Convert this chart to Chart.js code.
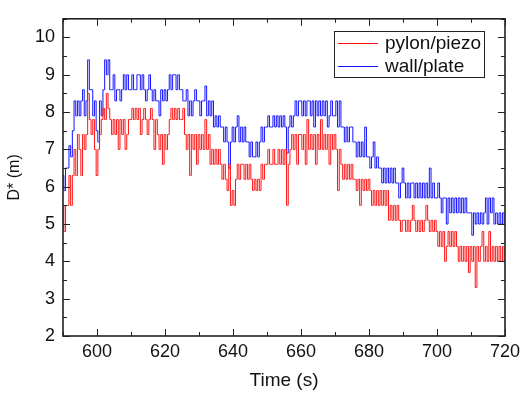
<!DOCTYPE html>
<html>
<head>
<meta charset="utf-8">
<script src="https://cdn.jsdelivr.net/npm/chart.js@4.4.1/dist/chart.umd.min.js"></script>
<style>
  html, body { margin: 0; padding: 0; background: #fff; }
  #wrap { width: 525px; height: 393px; }
</style>
</head>
<body>
<div id="wrap"><canvas id="chart" width="525" height="393"></canvas></div>
<script>
// sampling grid of the record (s)
const startTime = 590;
const timeStep = 0.5;

const seriesNames = ['pylon/piezo', 'wall/plate'];

// D* (m), pylon/piezo, one value every 0.5 s from 590 s to 720 s
const pylonPiezo = [
  5.5, 4.8, 5.5, 5.5, 6.3, 5.5, 6.3, 7.0, 6.3, 7.4, 7.0, 6.3, 7.4, 7.0, 7.4, 8.5, 7.8, 7.4, 7.8, 7.0,
  6.3, 7.0, 7.4, 7.8, 8.1, 7.8, 8.5, 8.1, 7.8, 7.4, 7.8, 7.4, 7.8, 7.0, 7.8, 7.4, 7.8, 7.0, 7.4, 7.8,
  7.8, 8.1, 7.8, 8.1, 7.8, 8.1, 7.4, 7.8, 8.1, 7.8, 7.4, 7.8, 8.1, 7.8, 7.0, 7.8, 7.4, 7.0, 7.4, 6.6,
  7.4, 7.0, 7.4, 7.8, 8.1, 7.8, 8.1, 7.8, 8.1, 7.8, 7.8, 8.1, 7.4, 7.0, 7.4, 6.3, 7.4, 7.0, 7.4, 6.6,
  7.4, 7.0, 7.4, 7.0, 7.8, 7.0, 7.4, 6.6, 7.0, 6.6, 7.0, 6.6, 7.0, 6.6, 6.2, 6.6, 6.2, 5.9, 6.6, 5.5,
  5.9, 5.5, 6.2, 6.6, 6.2, 6.6, 6.6, 6.2, 6.6, 6.2, 6.6, 6.2, 5.9, 6.2, 5.9, 6.2, 5.9, 6.6, 6.2, 6.6,
  6.6, 7.0, 6.6, 6.6, 7.0, 6.6, 6.6, 7.0, 6.6, 7.0, 6.6, 7.0, 5.5, 6.6, 7.0, 7.4, 7.0, 7.4, 6.6, 7.4,
  7.4, 7.0, 7.4, 6.6, 7.8, 7.0, 7.4, 7.0, 7.4, 6.6, 7.4, 7.0, 7.8, 7.0, 7.4, 7.0, 7.4, 6.6, 7.4, 7.0,
  7.4, 7.0, 5.9, 7.0, 6.6, 6.2, 6.6, 6.2, 6.6, 6.2, 6.6, 6.2, 6.2, 5.9, 6.2, 5.5, 6.2, 5.9, 6.2, 5.9,
  6.2, 5.9, 5.5, 5.9, 5.5, 5.9, 5.5, 5.9, 5.5, 5.9, 5.5, 5.9, 5.1, 5.5, 5.1, 5.5, 5.1, 5.5, 5.1, 4.8,
  5.1, 5.1, 4.8, 5.1, 4.8, 5.1, 5.5, 5.1, 4.8, 5.1, 4.8, 5.1, 4.8, 5.1, 5.5, 5.1, 4.8, 5.1, 4.8, 5.1,
  4.8, 4.4, 4.8, 4.4, 4.8, 4.0, 4.4, 4.8, 4.4, 4.8, 4.4, 4.8, 4.4, 4.0, 4.4, 4.0, 4.4, 4.0, 4.4, 3.7,
  4.4, 4.0, 4.4, 3.3, 4.4, 4.0, 4.4, 4.8, 4.0, 4.4, 4.0, 4.8, 4.0, 4.4, 4.0, 4.4, 4.0, 4.4, 4.0, 4.4,
  4.0
];

// D* (m), wall/plate, same grid
const wallPlate = [
  6.3, 5.9, 6.5, 6.5, 7.1, 6.8, 7.5, 8.3, 7.9, 8.3, 7.9, 8.3, 8.6, 7.9, 8.3, 9.4, 8.6, 8.6, 7.9, 8.3,
  7.5, 7.2, 8.3, 7.9, 8.6, 9.4, 9.0, 9.4, 8.6, 8.6, 9.0, 8.3, 8.6, 8.6, 8.3, 8.6, 9.0, 8.6, 9.0, 8.6,
  8.6, 9.0, 8.6, 8.6, 9.0, 9.0, 8.6, 9.0, 8.6, 8.3, 8.6, 9.0, 8.6, 8.3, 8.6, 8.3, 8.3, 7.9, 8.6, 8.3,
  8.6, 8.3, 8.6, 9.0, 8.6, 9.0, 9.0, 8.6, 9.0, 8.6, 8.6, 8.3, 8.3, 8.6, 7.9, 8.3, 7.9, 8.3, 8.6, 8.3,
  8.3, 7.9, 8.3, 8.3, 8.7, 7.9, 8.3, 7.9, 8.3, 7.6, 7.9, 7.6, 7.9, 7.6, 7.6, 7.2, 7.6, 7.2, 6.5, 7.2,
  7.6, 7.2, 7.6, 7.9, 7.2, 7.6, 7.2, 7.6, 7.2, 7.2, 6.8, 7.2, 6.8, 6.8, 7.2, 6.8, 7.2, 7.6, 7.2, 7.6,
  7.6, 7.9, 7.6, 7.6, 7.9, 7.6, 7.9, 7.6, 7.9, 7.6, 7.9, 7.6, 6.9, 7.6, 7.9, 7.6, 7.9, 8.3, 7.9, 8.3,
  8.3, 7.9, 8.3, 7.9, 8.3, 8.3, 7.9, 8.3, 7.6, 8.3, 7.9, 8.3, 7.9, 8.3, 7.9, 8.3, 7.6, 7.9, 8.3, 7.9,
  7.9, 8.3, 7.6, 8.3, 7.6, 7.6, 7.2, 7.6, 7.2, 7.6, 7.6, 7.2, 7.2, 6.8, 7.2, 6.8, 7.2, 6.8, 7.6, 6.8,
  6.8, 6.5, 6.8, 7.2, 6.5, 6.8, 6.5, 6.5, 6.1, 6.5, 6.1, 6.5, 6.1, 6.5, 6.1, 6.5, 6.1, 6.1, 5.7, 6.1,
  6.5, 6.1, 5.7, 6.1, 5.7, 6.1, 6.1, 5.7, 6.1, 5.7, 6.1, 5.7, 6.1, 5.7, 6.1, 5.7, 6.5, 5.7, 6.1, 5.7,
  5.7, 6.1, 5.7, 5.3, 5.7, 5.7, 5.0, 5.7, 5.3, 5.7, 5.3, 5.7, 5.3, 5.7, 5.3, 5.7, 5.3, 5.7, 5.3, 5.3,
  5.3, 4.7, 5.3, 5.0, 5.3, 5.0, 5.3, 5.0, 5.3, 5.7, 5.0, 5.7, 5.3, 5.7, 5.0, 5.3, 5.0, 5.3, 5.0, 5.3,
  5.0
];

const xTicks = [600, 620, 640, 660, 680, 700, 720];
const yTicks = [2, 3, 4, 5, 6, 7, 8, 9, 10];

const times = pylonPiezo.map((v, i) => startTime + i * timeStep);
const toPoints = vals => vals.map((v, i) => ({ x: times[i], y: v }));

const FONT = '"Liberation Sans", Arial, sans-serif';

// box round the plot, inward ticks on all four sides
const framePlugin = {
  id: 'frame',
  afterDatasetsDraw(chart) {
    const { ctx, chartArea: a, scales: { x, y } } = chart;
    ctx.save();
    ctx.strokeStyle = '#222';
    ctx.lineWidth = 1;
    ctx.beginPath();
    for (let t = 590; t <= 720; t += 10) {
      const px = Math.round(x.getPixelForValue(t)) + 0.5;
      const len = t % 20 === 0 ? 7 : 4;
      ctx.moveTo(px, a.bottom); ctx.lineTo(px, a.bottom - len);
      ctx.moveTo(px, a.top); ctx.lineTo(px, a.top + len);
    }
    for (let v = 2; v <= 10.5; v += 0.5) {
      const py = Math.round(y.getPixelForValue(v)) + 0.5;
      const len = v % 1 === 0 ? 7 : 4;
      ctx.moveTo(a.left, py); ctx.lineTo(a.left + len, py);
      ctx.moveTo(a.right, py); ctx.lineTo(a.right - len, py);
    }
    ctx.stroke();
    ctx.lineWidth = 1.6;
    ctx.strokeRect(a.left, a.top, a.right - a.left, a.bottom - a.top);
    ctx.restore();
  }
};

// framed legend in the upper right of the plot
const legendBoxPlugin = {
  id: 'legendBox',
  afterDraw(chart) {
    const { ctx } = chart;
    const bx = 334, by = 31, bw = 150, bh = 46;
    ctx.save();
    ctx.fillStyle = '#fff';
    ctx.fillRect(bx, by, bw, bh);
    ctx.strokeStyle = '#222';
    ctx.lineWidth = 1;
    ctx.strokeRect(bx + 0.5, by + 0.5, bw, bh);
    ctx.font = '19px ' + FONT;
    ctx.textBaseline = 'middle';
    chart.data.datasets.forEach((ds, i) => {
      const ly = by + 12 + i * 23;
      ctx.strokeStyle = ds.borderColor;
      ctx.lineWidth = 1;
      ctx.beginPath();
      ctx.moveTo(bx + 4, ly + 0.5);
      ctx.lineTo(bx + 44, ly + 0.5);
      ctx.stroke();
      ctx.fillStyle = '#111';
      ctx.fillText(ds.label, bx + 51, ly + 1);
    });
    ctx.restore();
  }
};

new Chart(document.getElementById('chart'), {
  type: 'line',
  data: {
    datasets: [
      {
        label: seriesNames[0],
        data: toPoints(pylonPiezo),
        borderColor: 'rgb(255, 20, 20)',
        borderWidth: 1,
        pointRadius: 0,
        stepped: 'middle',
        fill: false
      },
      {
        label: seriesNames[1],
        data: toPoints(wallPlate),
        borderColor: 'rgb(20, 20, 255)',
        borderWidth: 1,
        pointRadius: 0,
        stepped: 'middle',
        fill: false
      }
    ]
  },
  options: {
    responsive: false,
    animation: false,
    layout: { padding: { left: 0, right: 14, top: 8, bottom: 0 } },
    plugins: {
      legend: { display: false },
      tooltip: { enabled: false }
    },
    scales: {
      x: {
        type: 'linear',
        min: 590,
        max: 720,
        afterFit: s => { s.height = 57; },
        afterBuildTicks: s => { s.ticks = xTicks.map(v => ({ value: v })); },
        grid: { display: false, drawTicks: false },
        border: { display: false },
        ticks: { padding: 5, color: '#111', font: { family: FONT, size: 18 }, maxRotation: 0 },
        title: {
          display: true,
          text: 'Time (s)',
          color: '#111',
          font: { family: FONT, size: 19 },
          padding: { top: 0, bottom: 1 }
        }
      },
      y: {
        min: 2,
        max: 10.5,
        afterFit: s => { s.width = 63; },
        afterBuildTicks: s => { s.ticks = yTicks.map(v => ({ value: v })); },
        grid: { display: false, drawTicks: false },
        border: { display: false },
        ticks: { padding: 8, color: '#111', font: { family: FONT, size: 18 } },
        title: {
          display: true,
          text: 'D* (m)',
          color: '#111',
          font: { family: FONT, size: 16 },
          padding: { top: 5, bottom: 0 }
        }
      }
    }
  },
  plugins: [framePlugin, legendBoxPlugin]
});
</script>
</body>
</html>
